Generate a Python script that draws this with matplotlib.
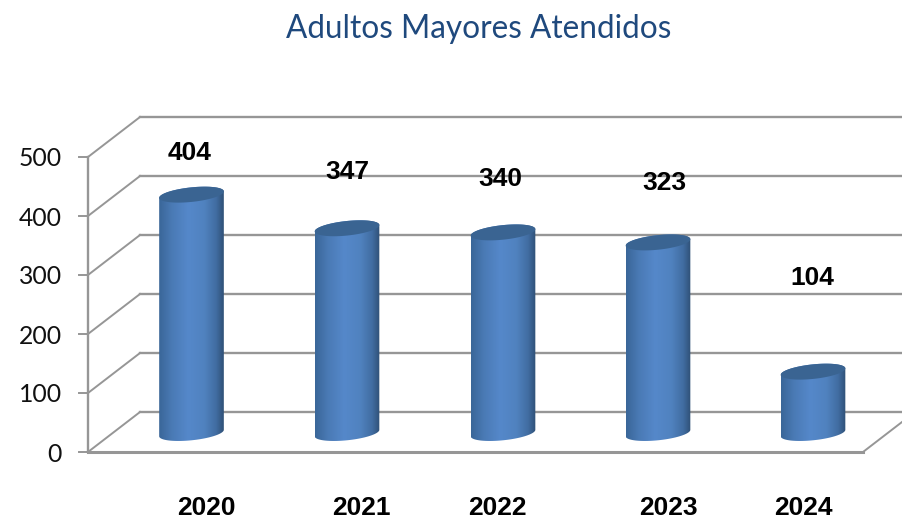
import numpy as np
import matplotlib
matplotlib.use("Agg")
import matplotlib.pyplot as plt
from matplotlib.colors import LinearSegmentedColormap
from matplotlib.patches import Polygon

# --- data ---
years = ["2020", "2021", "2022", "2023", "2024"]
attended = [404, 347, 340, 323, 104]
y_ticks = [0, 100, 200, 300, 400, 500]
title_text = "Adultos Mayores Atendidos"

# --- layout (pixels) ---
W, H = 903, 521
LEFT, RIGHT, FLOOR, TOP = 88, 863, 452, 157
DEPTH_X, DEPTH_Y = 52, 40
BAR_W, ELL_H, TILT = 65, 14.5, np.deg2rad(6)
BAR_SHIFT_Y = -1
bar_shift_x = [0, 0.5, 1.5, 1.5, 1.5]
value_label_dx = [-2, 0, -3, 6, -1]
value_label_dy = [42, 56, 53, 59, 94]
year_label_dx = [15, 14, -6, 10, -10]
GRID = "#969696"

fig = plt.figure(figsize=(W / 100, H / 100), dpi=100, facecolor="white")
ax = fig.add_axes([LEFT / W, (H - FLOOR) / H, (RIGHT - LEFT) / W, (FLOOR - TOP) / H])
ax.axis("off")
px_x = (RIGHT - LEFT) / len(years)
px_y = (FLOOR - TOP) / max(y_ticks)
dx, dy = DEPTH_X / px_x, DEPTH_Y / px_y
xmin, xmax = -0.5, len(years) - 0.5

# walls and floor
for t in y_ticks:
    ax.plot([xmin + dx, xmax + dx], [t + dy, t + dy], color=GRID, lw=1.7, clip_on=False, zorder=1)
    ax.plot([xmin, xmin + dx], [t, t + dy], color=GRID, lw=1.4, clip_on=False, zorder=1)
    ax.plot([xmin - 9 / px_x, xmin], [t, t], color=GRID, lw=1.4, clip_on=False, zorder=1)
    ax.text(xmin - 26 / px_x, t - 2 / px_y, str(t), ha="right", va="center", fontsize=17.8,
            family="Lato", color="#111111")
ax.plot([xmin, xmin], [0, max(y_ticks)], color=GRID, lw=1.7, clip_on=False, zorder=1)
ax.plot([xmin, xmax], [0, 0], color=GRID, lw=2.2, clip_on=False, zorder=1)
ax.plot([xmax, xmax + dx], [0, dy], color=GRID, lw=1.4, clip_on=False, zorder=1)

# cylinders
cmap = LinearSegmentedColormap.from_list("cyl", [
    (0.0, "#3a6698"), (0.2, "#4a7ab5"), (0.45, "#5588ca"),
    (0.7, "#5082bf"), (0.88, "#416da2"), (1.0, "#2f5076")])
gradient = np.linspace(0, 1, 256)[None, :]
angles = np.linspace(0, 2 * np.pi, 181)


def ring(cx, cy, t):
    ex = BAR_W / 2 * np.cos(t) * np.cos(TILT) - ELL_H / 2 * np.sin(t) * np.sin(TILT)
    ey = BAR_W / 2 * np.cos(t) * np.sin(TILT) + ELL_H / 2 * np.sin(t) * np.cos(TILT)
    return np.column_stack([cx + ex / px_x, cy + ey / px_y])


for i, v in enumerate(attended):
    cx = i + dx / 2 + bar_shift_x[i] / px_x
    base = dy / 2 + BAR_SHIFT_Y / px_y
    top = v + base
    lower = ring(cx, base, np.linspace(np.pi, 2 * np.pi, 90))
    upper = ring(cx, top, np.linspace(0, np.pi, 90))
    body = Polygon(np.vstack([lower, upper]), closed=True, transform=ax.transData,
                   facecolor="none", edgecolor="none")
    ax.add_patch(body)
    half = BAR_W / 2 / px_x
    im = ax.imshow(gradient, cmap=cmap, aspect="auto", zorder=3,
                   extent=[cx - half, cx + half, -100, v + 100], clip_on=True)
    im.set_clip_path(body)
    ax.add_patch(Polygon(ring(cx, top, angles), closed=True, facecolor="#3a6492",
                         edgecolor="none", zorder=4, clip_on=False))
    ax.annotate(str(v), xy=(cx, top), xytext=(value_label_dx[i], value_label_dy[i]),
                textcoords="offset pixels", ha="center", va="center", fontsize=19,
                fontweight="bold", family="Liberation Sans", color="black", zorder=6)
    fig.text((LEFT + (cx + 0.5) * px_x + year_label_dx[i]) / W, (H - 508) / H, years[i],
             ha="center", va="center", fontsize=19, fontweight="bold",
             family="Liberation Sans", color="black")

ax.set_xlim(xmin, xmax)
ax.set_ylim(0, max(y_ticks))

fig.text(479 / W, (H - 29) / H, title_text, ha="center", va="center", fontsize=22.7,
         family="Lato", color="#1f497d")
fig.savefig("out.png", dpi=100, facecolor="white")
